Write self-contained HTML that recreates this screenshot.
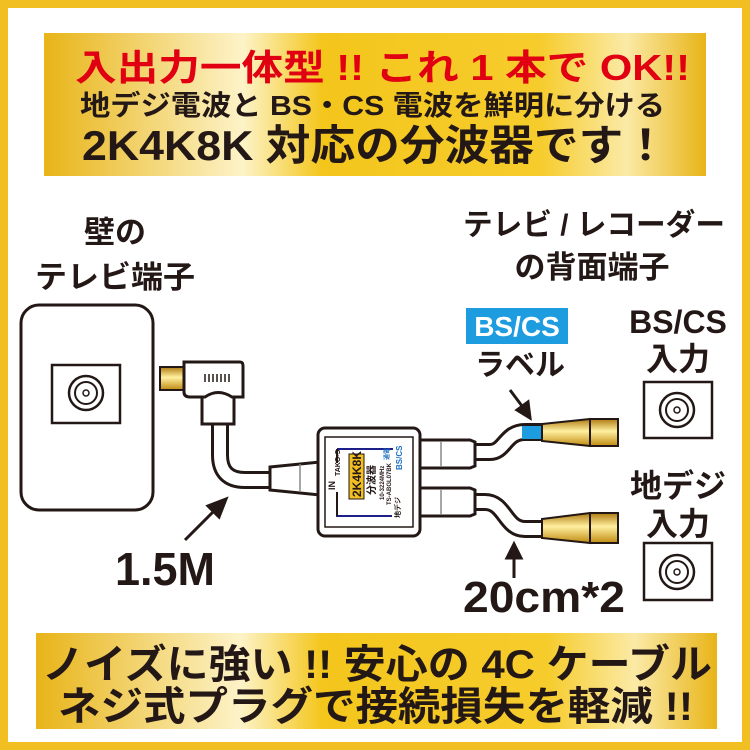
<!DOCTYPE html>
<html><head><meta charset="utf-8"><style>
html,body{margin:0;padding:0;background:#fff}
svg{display:block}
text{font-family:"Liberation Sans","Noto Sans CJK JP",sans-serif;font-weight:bold}
</style></head><body>
<svg width="750" height="750" viewBox="0 0 750 750" xmlns="http://www.w3.org/2000/svg">
<defs>
<linearGradient id="gb" x1="0" x2="1" y1="0" y2="0">
<stop offset="0" stop-color="#e8b418"/><stop offset="0.3" stop-color="#fdf3c8"/><stop offset="0.42" stop-color="#f4c61c"/><stop offset="0.75" stop-color="#f6cc2c"/><stop offset="0.88" stop-color="#fbeaa6"/><stop offset="1" stop-color="#e8b418"/>
</linearGradient>
<linearGradient id="gold" x1="0" x2="0" y1="0" y2="1">
<stop offset="0" stop-color="#b07a10"/><stop offset="0.45" stop-color="#fff0a0"/><stop offset="1" stop-color="#c08a10"/>
</linearGradient>
</defs>
<rect x="0" y="0" width="750" height="750" fill="#f1bf22"/>
<rect x="8" y="8" width="734" height="734" fill="#fff"/>
<!-- top banner -->
<rect x="44" y="33" width="662" height="143" fill="url(#gb)"/>
<text x="75" y="80" font-size="36" fill="#e00012" textLength="615" lengthAdjust="spacingAndGlyphs">入出力一体型 !! これ 1 本で OK!!</text>
<text x="80" y="115" font-size="28" fill="#231815" textLength="585" lengthAdjust="spacingAndGlyphs">地デジ電波と BS・CS 電波を鮮明に分ける</text>
<text x="82" y="160" font-size="42" fill="#231815" textLength="586" lengthAdjust="spacingAndGlyphs">2K4K8K 対応の分波器です！</text>
<!-- bottom banner -->
<rect x="36" y="633" width="681" height="96" fill="url(#gb)"/>
<text x="42" y="678" font-size="40" fill="#231815" textLength="670" lengthAdjust="spacingAndGlyphs">ノイズに強い !! 安心の 4C ケーブル</text>
<text x="58" y="720" font-size="40" fill="#231815" textLength="635" lengthAdjust="spacingAndGlyphs">ネジ式プラグで接続損失を軽減 !!</text>
<!-- labels -->
<g fill="#231815">
<text x="115" y="243" font-size="31" text-anchor="middle">壁の</text>
<text x="35" y="288" font-size="31" textLength="160" lengthAdjust="spacingAndGlyphs">テレビ端子</text>
<text x="463" y="235" font-size="30" textLength="262" lengthAdjust="spacingAndGlyphs">テレビ / レコーダー</text>
<text x="592" y="278" font-size="31" text-anchor="middle">の背面端子</text>
<text x="678" y="333" font-size="32" text-anchor="middle">BS/CS</text>
<text x="678" y="370" font-size="32" text-anchor="middle">入力</text>
<text x="678" y="497" font-size="32" text-anchor="middle">地デジ</text>
<text x="678" y="535" font-size="32" text-anchor="middle">入力</text>
<text x="520" y="375" font-size="30" text-anchor="middle">ラベル</text>
<text x="115" y="585" font-size="46" textLength="100" lengthAdjust="spacingAndGlyphs">1.5M</text>
<text x="463" y="612" font-size="44" textLength="162" lengthAdjust="spacingAndGlyphs">20cm*2</text>
</g>
<rect x="466" y="308" width="102" height="36" fill="#1e9ce0"/>
<text x="517" y="336" font-size="28" fill="#fff" text-anchor="middle">BS/CS</text>
<!-- wall plate -->
<rect x="21" y="305" width="132" height="205" rx="18" fill="#fff" stroke="#231815" stroke-width="3"/>
<rect x="52" y="365" width="68" height="58" fill="#fff" stroke="#231815" stroke-width="2.5"/>
<circle cx="86" cy="393" r="17" fill="none" stroke="#231815" stroke-width="2.5"/>
<circle cx="86" cy="393" r="11" fill="none" stroke="#231815" stroke-width="2"/>
<circle cx="86" cy="393" r="3" fill="none" stroke="#231815" stroke-width="1.5"/>
<!-- right jacks -->
<g stroke="#231815" fill="#fff">
<rect x="644" y="382" width="68" height="56" stroke-width="2.5"/>
<circle cx="677" cy="410" r="17" stroke-width="2.5"/><circle cx="677" cy="410" r="11" stroke-width="2"/><circle cx="677" cy="410" r="3" stroke-width="1.5"/>
<rect x="644" y="543" width="68" height="57" stroke-width="2.5"/>
<circle cx="677" cy="572" r="17" stroke-width="2.5"/><circle cx="677" cy="572" r="11" stroke-width="2"/><circle cx="677" cy="572" r="3" stroke-width="1.5"/>
</g>
<!-- cables -->
<g fill="none" stroke-linecap="butt">
<path d="M220 420 V455 Q220 480 245 480 H275" stroke="#231815" stroke-width="18"/>
<path d="M220 420 V455 Q220 480 245 480 H275" stroke="#fff" stroke-width="12"/>
<path d="M470 452 H490 C505 452 505 432 525 432 H545" stroke="#231815" stroke-width="18"/>
<path d="M470 452 H490 C505 452 505 432 525 432 H545" stroke="#fff" stroke-width="12"/>
<path d="M470 502 H485 C505 502 505 529 525 529 H545" stroke="#231815" stroke-width="18"/>
<path d="M470 502 H485 C505 502 505 529 525 529 H545" stroke="#fff" stroke-width="12"/>
</g>
<rect x="522" y="426" width="20" height="13" fill="#1e9ce0"/>
<!-- gold connectors -->
<g stroke="#231815" stroke-width="2">
<path d="M542 424 L590 419 V446 L542 441 Z" fill="url(#gold)"/>
<rect x="590" y="419" width="28" height="27" fill="url(#gold)"/>
<path d="M542 519 L590 513 V543 L542 538 Z" fill="url(#gold)"/>
<rect x="590" y="513" width="28" height="30" fill="url(#gold)"/>
<rect x="160" y="367" width="24" height="23" fill="url(#gold)"/>
</g>
<!-- angle plug -->
<g stroke="#231815" stroke-width="3" fill="#fff">
<rect x="202" y="392" width="32" height="32"/>
<path d="M184 362 H240 Q243 362 243 366 V397 H232 Q218 388 205 397 H190 Q184 397 184 392 Z"/>
</g>
<g stroke="#231815" stroke-width="1.5"><path d="M205 374v8M209 374v8M213 374v8M217 374v8M221 374v8M225 374v8M229 374v8"/></g>
<!-- splitter plugs -->
<g stroke="#231815" stroke-width="3" fill="#fff">
<path d="M270 467 L320 462 V495 L270 490 Z"/>
<path d="M418 440 H470 L475 442 V466 L470 468 H418 Z"/>
<path d="M418 488 H470 L475 490 V514 L470 516 H418 Z"/>
</g>
<g stroke="#888" stroke-width="1.5"><path d="M300 464v28M441 441v26M441 489v26"/></g>
<!-- splitter box -->
<rect x="318" y="428" width="102" height="108" rx="7" fill="#fff" stroke="#231815" stroke-width="3"/>
<rect x="325" y="437" width="88" height="90" fill="none" stroke="#231815" stroke-width="1.5"/>
<path d="M337 449 V463 M337 492 V516 H392 M337 449 H393" stroke="#1d2088" stroke-width="2" fill="none"/>
<path d="M337 449 V463 M337 492 V516" stroke="#231815" stroke-width="2" fill="none"/>
<rect x="349" y="454" width="15" height="45" fill="#f1bf22" stroke="#231815" stroke-width="1"/>
<text transform="translate(361,497) rotate(-90)" font-size="12" fill="#231815">2K4K8K</text>
<text transform="translate(340,476) rotate(-90)" font-size="7" fill="#231815">TAKO-S</text>
<text transform="translate(335,490) rotate(-90)" font-size="9" fill="#231815">IN</text>
<text transform="translate(375,495) rotate(-90)" font-size="10" fill="#231815">分波器</text>
<text transform="translate(384,500) rotate(-90)" font-size="6" fill="#231815">10-3224MHz</text>
<text transform="translate(391,505) rotate(-90)" font-size="6" fill="#231815">TS-ABGL07BK</text>
<text transform="translate(402,470) rotate(-90)" font-size="8" fill="#1d6fc0">BS/CS</text>
<text transform="translate(389,460) rotate(-90)" font-size="6" fill="#1d6fc0">通電</text>
<text transform="translate(400,518) rotate(-90)" font-size="7" fill="#231815">地デジ</text>
<!-- arrows -->
<g stroke="#231815" stroke-width="3" fill="#231815">
<path d="M185 540 L218 507" fill="none"/><path d="M226 499 L208 506 L219 517 Z"/>
<path d="M510 390 L525 410" fill="none"/><path d="M530 418 L517 410 L528 402 Z"/>
<path d="M514 578 V555" fill="none"/><path d="M514 544 L507 558 H521 Z"/>
</g>
</svg>
</body></html>
